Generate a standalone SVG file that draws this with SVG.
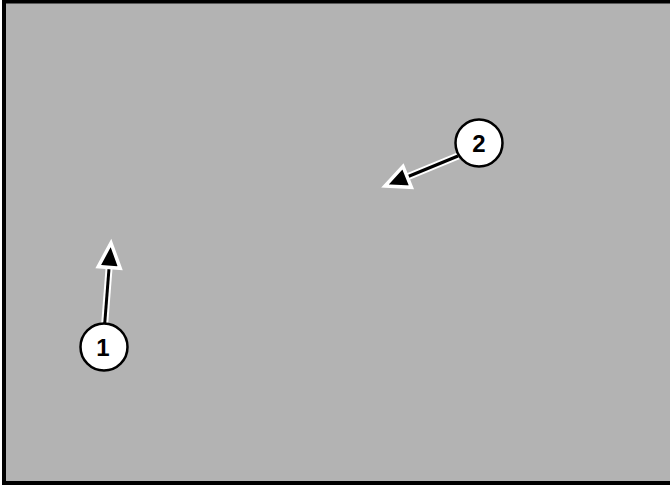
<svg xmlns="http://www.w3.org/2000/svg" width="670" height="485" viewBox="0 0 670 485">
<style>
.bg{fill:#b3b3b3;stroke:#000;stroke-width:4}
.halo{stroke:#fff;stroke-width:7;fill:none}
.shaft{stroke:#000;stroke-width:3;fill:none}
.head{fill:#000;stroke:#fff;stroke-width:3.5;stroke-linejoin:miter}
.node-circle{fill:#fff;stroke:#000;stroke-width:2.5}
.node-label{font-family:"Liberation Sans",Arial,sans-serif;font-weight:bold;font-size:24px;fill:#000;text-anchor:middle}
</style>
<rect class="bg" x="4" y="1.5" width="690" height="481.5"/>
<g id="connectors">
<line class="halo" x1="104.6" y1="325" x2="109.2" y2="266"/>
<line class="shaft" x1="104.6" y1="325" x2="109.2" y2="266"/>
<polygon class="head" points="111,243 120.2,268.3 98.2,266.6"/>
<line class="halo" x1="458" y1="156" x2="407" y2="177"/>
<line class="shaft" x1="458" y1="156" x2="407" y2="177"/>
<polygon class="head" points="385,186 411.4,187.3 403.0,166.4"/>
</g>
<g id="node1">
<circle class="node-circle" cx="104" cy="347" r="23.5"/>
<text class="node-label" x="103" y="355.5" font-size="24">1</text>
</g>
<g id="node2">
<circle class="node-circle" cx="479" cy="143" r="23.5"/>
<text class="node-label" x="479" y="151.5" font-size="24">2</text>
</g>
</svg>
